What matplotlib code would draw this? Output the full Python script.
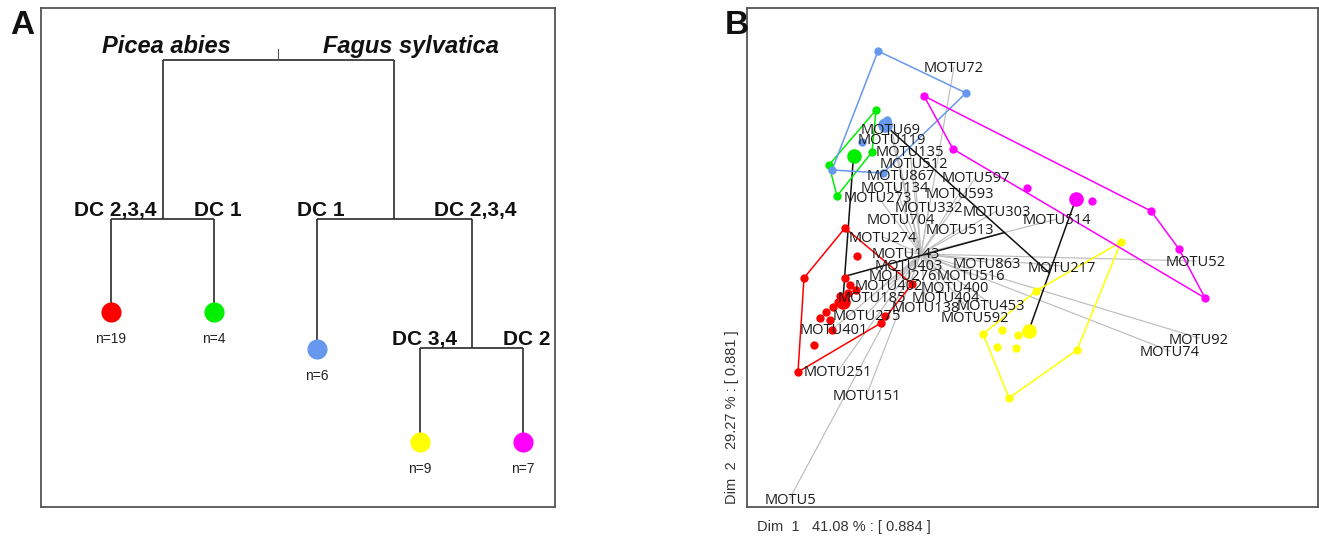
import matplotlib.pyplot as plt
import numpy as np

plt.rcParams["font.family"] = ["Liberation Sans", "DejaVu Sans"]

# ---- panel A: clustering of the five groups ----
leaf_colors = ["#ff0000", "#00ee00", "#6699ee", "#ffff00", "#ff00ff"]
leaf_n = [19, 4, 6, 9, 7]
leaf_end = [1.95, 1.95, 1.58, 0.65, 0.65]   # height where each leaf branch stops
# merges in order; node ids 0-4 are leaves, 5.. are these merges
merge_a = [0, 3, 2, 5]
merge_b = [1, 4, 6, 7]
merge_h = [2.88, 1.59, 2.88, 4.47]
root_top = 4.58
branch_labels = {0: "DC 2,3,4", 1: "DC 1", 2: "DC 1", 6: "DC 2,3,4", 3: "DC 3,4", 4: "DC 2"}
species_labels = {5: "Picea abies", 7: "Fagus sylvatica"}

# ---- panel B: ordination scores per group ----
red_x = [-0.76, -1.17, -0.64, -0.76, -0.71, -0.65, -0.73, -0.81, -0.88, -0.95,
         -1.01, -0.91, -0.89, -1.07, -1.23, -0.36, -0.40, -0.09, -0.83]
red_y = [0.26, -0.24, -0.02, -0.24, -0.31, -0.36, -0.39, -0.42, -0.53, -0.58,
         -0.64, -0.66, -0.76, -0.91, -1.18, -0.62, -0.69, -0.30, -0.48]
green_x = [-0.45, -0.49, -0.92, -0.84]
green_y = [1.44, 1.02, 0.89, 0.58]
blue_x = [-0.43, 0.45, -0.38, -0.89, -0.34, -0.59]
blue_y = [2.03, 1.61, 0.81, 0.84, 1.34, 1.12]
yellow_x = [2.00, 1.15, 0.62, 0.81, 0.97, 0.76, 0.95, 1.56, 0.88]
yellow_y = [0.12, -0.37, -0.80, -0.76, -0.81, -0.93, -0.94, -0.96, -1.44]
magenta_x = [0.03, 0.32, 1.06, 1.71, 2.30, 2.58, 2.84]
magenta_y = [1.58, 1.05, 0.66, 0.53, 0.43, 0.05, -0.44]

motu_names = ["MOTU72", "MOTU69", "MOTU119", "MOTU135", "MOTU512", "MOTU867", "MOTU597",
              "MOTU134", "MOTU593", "MOTU273", "MOTU332", "MOTU303", "MOTU704", "MOTU514",
              "MOTU513", "MOTU274", "MOTU143", "MOTU863", "MOTU217", "MOTU52", "MOTU403",
              "MOTU276", "MOTU516", "MOTU402", "MOTU400", "MOTU185", "MOTU404", "MOTU453",
              "MOTU138", "MOTU275", "MOTU592", "MOTU401", "MOTU92", "MOTU74", "MOTU251",
              "MOTU151", "MOTU5"]
motu_x = [0.33, -0.30, -0.29, -0.11, -0.07, -0.20, 0.55, -0.26, 0.39, -0.43, 0.08, 0.76,
          -0.20, 1.36, 0.39, -0.38, -0.15, 0.66, 1.41, 2.75, -0.12, -0.18, 0.50, -0.32,
          0.34, -0.49, 0.25, 0.70, 0.05, -0.54, 0.54, -0.87, 2.78, 2.49, -0.83, -0.54, -1.31]
motu_y = [1.87, 1.26, 1.15, 1.03, 0.91, 0.80, 0.77, 0.68, 0.62, 0.57, 0.47, 0.43, 0.36,
          0.35, 0.26, 0.17, 0.02, -0.08, -0.12, -0.07, -0.10, -0.21, -0.21, -0.31, -0.32,
          -0.42, -0.42, -0.50, -0.52, -0.60, -0.63, -0.74, -0.84, -0.97, -1.17, -1.40, -2.44]

dim1_pct, dim1_eig = 41.08, 0.884
dim2_pct, dim2_eig = 29.27, 0.881


def convex_hull(px, py):
    pts = sorted(set(zip(px, py)))

    def cross(o, a, b):
        return (a[0] - o[0]) * (b[1] - o[1]) - (a[1] - o[1]) * (b[0] - o[0])

    lower, upper = [], []
    for p in pts:
        while len(lower) >= 2 and cross(lower[-2], lower[-1], p) <= 0:
            lower.pop()
        lower.append(p)
    for p in reversed(pts):
        while len(upper) >= 2 and cross(upper[-2], upper[-1], p) <= 0:
            upper.pop()
        upper.append(p)
    hull = lower[:-1] + upper[:-1]
    hull.append(hull[0])
    return [p[0] for p in hull], [p[1] for p in hull]


W, H = 1319, 541
fig = plt.figure(figsize=(W / 100, H / 100), dpi=100)
frame_color = "#555555"

# ---------------- panel A ----------------
axA = fig.add_axes([41 / W, 34 / H, 514 / W, 499 / H])
node_x = [1.0, 2.0, 3.0, 4.0, 5.0]
node_h = list(leaf_end)
line_kw = dict(color="#2a2a2a", lw=1.2, solid_capstyle="butt", zorder=1)
for a, b, h in zip(merge_a, merge_b, merge_h):
    xa, xb = node_x[a], node_x[b]
    axA.plot([xa, xb], [h, h], **line_kw)
    axA.plot([xa, xa], [h, node_h[a]], **line_kw)
    axA.plot([xb, xb], [h, node_h[b]], **line_kw)
    node_x.append((xa + xb) / 2)
    node_h.append(h)
    for child in (a, b):
        if child in branch_labels:
            axA.annotate(branch_labels[child], (node_x[child], h), xytext=(3, 2),
                         textcoords="offset points", ha="center", va="baseline",
                         fontsize=15, fontweight="bold", color="#111111")
        if child in species_labels:
            dx = 3 if child == 5 else 12
            axA.annotate(species_labels[child], (node_x[child], h), xytext=(dx, 5),
                         textcoords="offset points", ha="center", va="baseline",
                         fontsize=17, fontweight="bold", fontstyle="italic", color="#111111")
axA.plot([node_x[-1], node_x[-1]], [merge_h[-1], root_top], color="#555555", lw=0.8)

for i in range(5):
    axA.plot(node_x[i], leaf_end[i], "o", ms=14.5, color=leaf_colors[i],
             markeredgewidth=0, zorder=3)
    axA.annotate(f"n={leaf_n[i]}", (node_x[i], leaf_end[i]), xytext=(0, -19.5),
                 textcoords="offset points", ha="center", va="center",
                 fontsize=10, color="#222222")

axA.set_xlim((41 - 111) / 103 + 1, (555 - 111) / 103 + 1)
axA.set_ylim(0, 4.99)
axA.set_xticks([])
axA.set_yticks([])
for s in axA.spines.values():
    s.set_color(frame_color)
    s.set_linewidth(1.3)

# ---------------- panel B ----------------
axB = fig.add_axes([747 / W, 34 / H, 571 / W, 499 / H])

for name, x, y in zip(motu_names, motu_x, motu_y):
    axB.plot([0, x], [0, y], color="#bdbdbd", lw=0.85, zorder=1)

groups = [(red_x, red_y), (green_x, green_y), (blue_x, blue_y),
          (yellow_x, yellow_y), (magenta_x, magenta_y)]

# centroids of groups and of merged groups follow the tree of panel A
cx = [np.mean(gx) for gx, gy in groups]
cy = [np.mean(gy) for gx, gy in groups]
cn = [len(gx) for gx, gy in groups]
for a, b in zip(merge_a, merge_b):
    axB.plot([cx[a], cx[b]], [cy[a], cy[b]], color="#111111", lw=1.1, zorder=2)
    n = cn[a] + cn[b]
    cx.append((cx[a] * cn[a] + cx[b] * cn[b]) / n)
    cy.append((cy[a] * cn[a] + cy[b] * cn[b]) / n)
    cn.append(n)

for (gx, gy), col, mx, my in zip(groups, leaf_colors, cx, cy):
    hx, hy = convex_hull(gx, gy)
    axB.plot(hx, hy, color=col, lw=1.1, zorder=3)
    axB.plot(gx, gy, "o", ms=6, color=col, markeredgewidth=0, zorder=4)
    axB.plot(mx, my, "o", ms=10.5, color=col, markeredgewidth=0, zorder=4)

for name, x, y in zip(motu_names, motu_x, motu_y):
    axB.text(x, y, name, ha="center", va="center_baseline", fontsize=10.5,
             family=["Open Sans", "DejaVu Sans"], color="#1a1a1a", zorder=5)

axB.set_xlim((747 - 921) / 100, (1318 - 921) / 100)
axB.set_ylim((254 - 507) / 100, (254 - 8) / 100)
axB.set_xticks([])
axB.set_yticks([])
for s in axB.spines.values():
    s.set_color(frame_color)
    s.set_linewidth(1.3)

axB.text(0.0175, -0.041, f"Dim  1   {dim1_pct:.2f} % : [ {dim1_eig:.3f} ]",
         transform=axB.transAxes, ha="left", va="center", fontsize=10.5, color="#333333")
axB.text(-0.026, 0.006, f"Dim  2   {dim2_pct:.2f} % : [ {dim2_eig:.3f} ]",
         transform=axB.transAxes, ha="center", va="bottom", rotation=90,
         fontsize=10.5, color="#333333")

fig.text(22 / W, 1 - 25 / H, "A", ha="center", va="center", fontsize=24,
         fontweight="bold", color="#111111")
fig.text(737 / W, 1 - 25 / H, "B", ha="center", va="center", fontsize=24,
         fontweight="bold", color="#111111")

fig.savefig("out.png", dpi=100, facecolor="white")
